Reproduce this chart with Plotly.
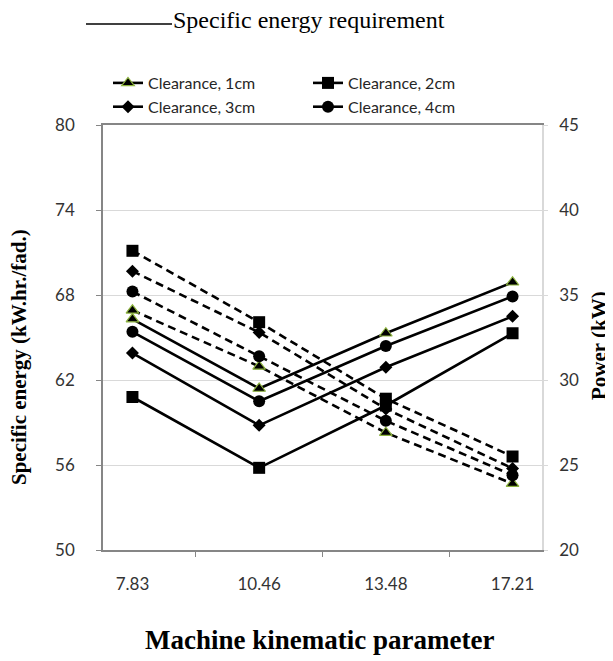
import plotly.graph_objects as go

categories = ["7.83", "10.46", "13.48", "17.21"]
series_names = ["Clearance, 1cm", "Clearance, 2cm", "Clearance, 3cm", "Clearance, 4cm"]

# Specific energy requirement (left axis, solid lines)
energy_1cm = [66.3, 61.4, 65.3, 68.9]
energy_2cm = [60.8, 55.8, 60.2, 65.3]
energy_3cm = [63.9, 58.8, 62.9, 66.5]
energy_4cm = [65.4, 60.5, 64.4, 67.9]

# Power (right axis, dashed lines)
power_1cm = [34.1, 30.8, 26.9, 23.9]
power_2cm = [37.6, 33.4, 28.9, 25.5]
power_3cm = [36.4, 32.8, 28.3, 24.8]
power_4cm = [35.2, 31.4, 27.6, 24.4]

left_ticks = [50, 56, 62, 68, 74, 80]
right_ticks = [20, 25, 30, 35, 40, 45]

energy = [energy_1cm, energy_2cm, energy_3cm, energy_4cm]
power = [power_1cm, power_2cm, power_3cm, power_4cm]

markers = [
    dict(symbol="triangle-up", size=11, color="black", line=dict(color="#8DB43E", width=1.2)),
    dict(symbol="square", size=12, color="black"),
    dict(symbol="diamond", size=10, color="black"),
    dict(symbol="circle", size=12, color="black"),
]

fig = go.Figure()
for i, name in enumerate(series_names):
    fig.add_trace(go.Scatter(
        x=categories, y=energy[i], name=name,
        mode="lines+markers", line=dict(color="black", width=2.6),
        marker=markers[i], yaxis="y", showlegend=True,
    ))
for i, name in enumerate(series_names):
    fig.add_trace(go.Scatter(
        x=categories, y=power[i], name=name,
        mode="lines+markers", line=dict(color="black", width=2.6, dash="8px,5px"),
        marker=markers[i], yaxis="y2", showlegend=False,
    ))

OFF = 8  # default page body margin
W, H = 613 - OFF, 661 - OFF
L, T = 103 - OFF, 125 - OFF
R = W - L - 439
B = H - T - 425
pw = W - L - R
ph = H - T - B

def px(xp):
    return (xp - OFF - L) / pw

def py(yp):
    return (H - B - (yp - OFF)) / ph

tick_font = dict(family="Lato, 'Open Sans', sans-serif", size=17, color="#333333")
serif = "Liberation Serif, Times New Roman, serif"

fig.update_layout(
    width=W, height=H,
    margin=dict(l=L, r=R, t=T, b=B, pad=0),
    paper_bgcolor="white", plot_bgcolor="white",
    showlegend=True,
    legend=dict(
        orientation="h", x=px(108), y=py(66), xanchor="left", yanchor="top",
        entrywidth=155, entrywidthmode="pixels",
        font=dict(family="Lato, 'Open Sans', sans-serif", size=16, color="#262626"),
        bgcolor="rgba(0,0,0,0)", itemwidth=30, traceorder="normal",
    ),
    xaxis=dict(
        type="category", showgrid=False, showline=True, linecolor="#868686", linewidth=1.5,
        mirror=True, ticks="outside", ticklen=5, tickcolor="#868686", tickson="boundaries",
        tickfont=tick_font, ticklabelstandoff=18,
    ),
    yaxis=dict(
        range=[50, 80], tickvals=left_ticks, showgrid=True, gridcolor="#D9D9D9", gridwidth=1.2,
        showline=True, linecolor="#868686", linewidth=1.5, ticks="outside", ticklen=5,
        tickcolor="#868686", tickfont=tick_font, ticklabelstandoff=18, zeroline=False,
    ),
    yaxis2=dict(
        range=[20, 45], tickvals=right_ticks, overlaying="y", side="right", showgrid=False,
        showline=True, linecolor="#D9D9D9", linewidth=1.5, ticks="outside", ticklen=4,
        tickcolor="#D9D9D9", tickfont=tick_font, ticklabelstandoff=8, zeroline=False,
    ),
    shapes=[dict(type="line", xref="paper", yref="paper", x0=px(86), x1=px(172),
                 y0=py(24), y1=py(24), line=dict(color="black", width=1.5))],
    annotations=[
        dict(text="Specific energy requirement", xref="paper", yref="paper",
             x=px(171), y=py(20), xanchor="left", yanchor="middle", showarrow=False,
             font=dict(family=serif, size=24, color="black")),
        dict(text="<b>Machine kinematic parameter</b>", xref="paper", yref="paper",
             x=px(319), y=py(640), xanchor="center", yanchor="middle", showarrow=False,
             font=dict(family=serif, size=27, color="black")),
        dict(text="<b>Specific energy (kW.hr./fad.)</b>", xref="paper", yref="paper",
             x=px(19), y=py(357), xanchor="center", yanchor="middle", showarrow=False, textangle=-90,
             font=dict(family=serif, size=21, color="black")),
        dict(text="<b>Power (kW)</b>", xref="paper", yref="paper",
             x=px(599), y=py(346), xanchor="center", yanchor="middle", showarrow=False, textangle=-90,
             font=dict(family=serif, size=21, color="black")),
    ],
)

fig.write_html("out.html")
